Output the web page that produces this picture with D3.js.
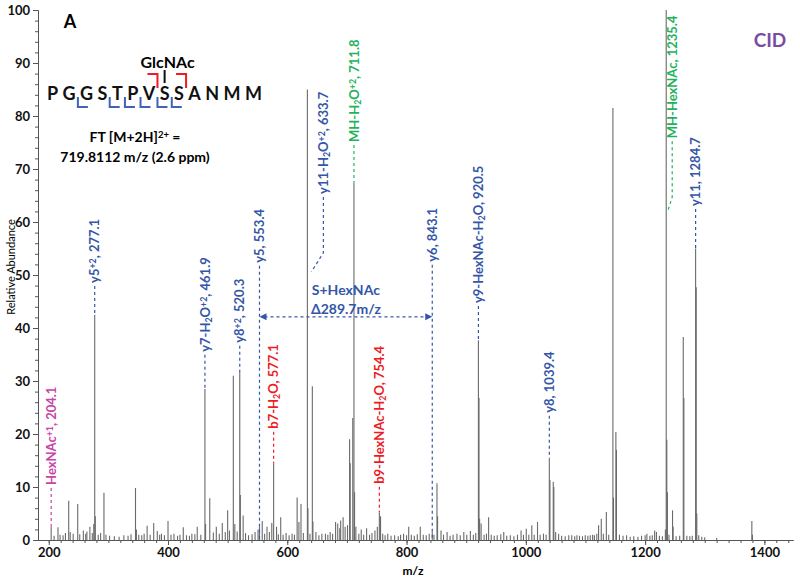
<!DOCTYPE html>
<html><head><meta charset="utf-8">
<script src="https://cdn.jsdelivr.net/npm/d3@7"></script>
<style>
body{margin:0;background:#fff}
svg{display:block}
text{font-family:Lato,"Open Sans",sans-serif}
</style>
</head><body>
<svg id="c" width="800" height="581"></svg>
<script>
// ---------- DATA ----------
const peaks = [
[204.1,2.6],[209,0.8],[215.5,2.4],[219,1.0],[224,0.9],[228,1.3],[233.5,7.4],[236,1.5],[241,1.2],
[248.6,6.8],[252,1.1],[258,1.8],[262,1.2],[264,1.6],[269,2.5],[273,1.3],[275.5,3.0],[277.1,42.5],
[278.1,4.5],[283,1.0],[287,1.3],[292.6,8.9],[296,1.0],[302,0.8],[310,0.7],[318,0.6],[326,0.9],
[333,0.8],[338,1.1],[345.5,9.8],[347,2.0],[351,1.0],[356,0.9],[360,1.2],[365,2.7],[370,1.0],
[376,3.2],[382,1.7],[386,1.0],[389,1.2],[394,0.9],[400,3.6],[405,1.0],[410,1.2],[416,0.8],
[420,1.0],[425.6,2.4],[431,0.9],[436,0.8],[440,1.2],[445,1.1],[449,2.5],[455,1.0],[461.9,28.5],
[463,3.0],[470,7.9],[476,1.4],[481,2.5],[486,1.2],[491,3.2],[496,1.5],[500,5.6],[503,1.8],
[509.5,31],[512,3.0],[516,1.6],[520.3,31.5],[521.3,8.5],[526,4.6],[530,1.3],[535,0.9],[541,1.1],
[546,1.5],[551,2.0],[553.4,2.5],[558,3.6],[562,1.2],[566,2.5],[570,1.5],[574,3.2],[577.1,14.5],
[582,2.5],[585,1.1],[589,4.3],[593,1.0],[598,1.3],[603,0.9],[608,1.2],[612,1.0],[616.5,8.0],
[619.5,3.4],[623,6.8],[627,1.3],[633.7,85],[634.7,6.0],[638,1.2],[642,29],[643,3.5],[648,1.5],
[653,0.9],[658,1.2],[664,1.2],[668,1.0],[672,1.5],[676,1.2],[681,3.4],[684.6,3.1],[688,2.2],
[689.5,3.7],[693.6,4.3],[697,2.5],[701,2.8],[704.5,19],[705.5,14.5],[709.8,23],[711.8,67.4],
[712.8,9.0],[715,2.5],[720,1.2],[724,2.0],[728,1.0],[733,2.2],[738,1.0],[742,1.3],[747,1.8],
[751,2.5],[754.4,5.2],[756.4,4.5],[760,1.2],[764,0.9],[768.5,1.2],[774,0.8],[780,0.9],[786,0.7],
[790,1.0],[795,1.2],[800,0.9],[803.6,2.5],[808,1.0],[813,0.8],[818,1.1],[823,2.5],[828,1.0],
[833,0.9],[838,1.2],[843.1,1.5],[846,1.0],[851,10.7],[852,4.5],[857.8,1.8],[862,1.0],[868,1.5],
[873,0.8],[878,1.0],[884.5,1.2],[890,0.9],[896,1.5],[901,1.0],[907,1.7],[912,1.0],[916,1.3],
[920.5,37.7],[921.5,26.8],[922.5,4.0],[925,3.1],[930,1.0],[934,1.2],[937.6,4.3],[942,1.0],
[947,0.8],[952,0.9],[958,1.1],[963,1.5],[968,0.8],[974,0.9],[980,0.7],[986,1.0],[992,1.8],
[996,1.0],[1000.7,2.1],[1005,1.0],[1010,2.8],[1014,1.0],[1019.6,3.4],[1024,1.0],[1029.6,1.2],
[1034,1.0],[1039.4,15.5],[1040.4,11.3],[1046,11],[1047,10],[1050,1.5],[1055,1.2],[1060,0.8],
[1066,0.7],[1072,0.9],[1077,0.9],[1082,0.7],[1085.7,0.9],[1090,0.8],[1095,0.7],[1099.6,0.9],
[1104,0.8],[1108,0.9],[1112,1.0],[1115,0.9],[1119,1.2],[1122,2.8],[1126.5,4.0],[1130,1.2],
[1135,5.3],[1139,1.0],[1146,81.5],[1147,8.0],[1151,20.4],[1152,17],[1157,1.0],[1163,0.8],
[1169,0.9],[1175,0.6],[1181,0.7],[1188,0.6],[1194,0.8],[1200,0.9],[1203,1.2],[1208,0.8],
[1212,0.9],[1216,1.8],[1219,1.5],[1224,0.8],[1229,0.7],[1234,2.0],[1235.4,100],[1236.4,18.9],
[1237.4,9.0],[1240,1.0],[1246,5.6],[1247,2.5],[1252,0.7],[1258,0.8],[1264,38.3],[1265,26.8],
[1270,0.8],[1275,0.7],[1279,0.8],[1284.7,55],[1285.7,47.7],[1286.7,5.0],[1290,0.9],[1295,0.6],
[1300,0.5],[1320,0.4],[1379,3.6],[1380,1.0]
];

const annText = [
"HexNAc^{+1}, 204.1","y5^{+2}, 277.1","y7-H_{2}O^{+2}, 461.9","y8^{+2}, 520.3","y5, 553.4",
"b7-H_{2}O, 577.1","y11-H_{2}O^{+2}, 633.7","MH-H_{2}O^{+2}, 711.8","b9-HexNAc-H_{2}O, 754.4",
"y6, 843.1","y9-HexNAc-H_{2}O, 920.5","y8, 1039.4","MH-HexNAc, 1235.4","y11, 1284.7"];
const annMz = [204.1,277.1,461.9,520.3,553.4,577.1,633.7,711.8,754.4,843.1,920.5,1039.4,1235.4,1284.7];
const annIon = ["oxonium","y","y","y","y","b","y","precursor","b","y","y","y","precursor","y"];
const annPeakTop = [2.6,42.5,28.5,31.5,0,14.5,50.6,67.4,5.2,0,37.7,15.5,62.3,55];

const yTickLabels = [0,10,20,30,40,50,60,70,80,90,100];
const xTickLabels = [200,400,600,800,1000,1200,1400];

const peptide = ["P","G","G","S","T","P","V","S","S","A","N","M","M"];
const yCleavages = [2,4,5,6,7,8];
const bCleavages = [7,9];
const glycoSite = 8;

const deltaStart = 553.4, deltaEnd = 843.1, deltaText = ["S+HexNAc","Δ289.7m/z"];

// ---------- LAYOUT (not data) ----------
const annTextStart = [10.4,48.5,35.5,37.2,52.3,21,65.3,75.1,10.6,52.5,44.7,24,75.8,63];
const annDx = [0,0,0,0,0,0,16,0,0,0,0,0,6,0];
const annKink = [null,null,null,null,null,null,54.2,null,null,null,null,null,64.7,null];
const annKinkEndDx = [0,0,0,0,0,0,4,0,0,0,0,0,2,0];
const deltaLevel = 42.1;

const colors = {y:"#3456a8", b:"#ec1c24", precursor:"#1fb25a", oxonium:"#c844a6"};

// ---------- CHART ----------
const svg = d3.select("#c");
const x = d3.scaleLinear().domain([182,1448]).range([38,793]);
const y = d3.scaleLinear().domain([0,100]).range([540,10]);

// peaks
svg.append("g").selectAll("line").data(peaks).join("line")
  .attr("x1",d=>x(d[0])).attr("x2",d=>x(d[0]))
  .attr("y1",y(0)).attr("y2",d=>y(d[1]))
  .attr("stroke","#6a6a6a").attr("stroke-width",1.1);

// axes
const axCol = "#555";
const gxMinor = svg.append("g").attr("transform",`translate(0,${y(0)})`)
  .call(d3.axisBottom(x).tickValues(d3.range(200,1441,20)).tickSize(3).tickFormat("").tickSizeOuter(0));
const gx = svg.append("g").attr("transform",`translate(0,${y(0)})`)
  .call(d3.axisBottom(x).tickValues(xTickLabels).tickFormat(d3.format("d")).tickSize(5).tickPadding(3).tickSizeOuter(0));
const gyMinor = svg.append("g").attr("transform",`translate(${x.range()[0]},0)`)
  .call(d3.axisLeft(y).tickValues(d3.range(0,101,2)).tickSize(3).tickFormat("").tickSizeOuter(0));
const gy = svg.append("g").attr("transform",`translate(${x.range()[0]},0)`)
  .call(d3.axisLeft(y).tickValues(yTickLabels).tickSize(5).tickPadding(3).tickSizeOuter(0));
[gxMinor,gx,gyMinor,gy].forEach(g=>{
  g.selectAll("path,line").attr("stroke",axCol);
  g.selectAll("text").attr("fill","#111").style("font-size","13px").style("font-weight","bold")
   .style("font-family","Lato, sans-serif");
});

svg.append("text").attr("x",413).attr("y",575).attr("text-anchor","middle")
  .style("font-size","12px").style("font-weight","bold").text("m/z");
svg.append("text").attr("transform","translate(15,267) rotate(-90)").attr("text-anchor","middle")
  .style("font-size","11px").text("Relative Abundance");

// rich text helper
function rich(sel, str){
  const parts = str.split(/(_\{[^}]*\}|\^\{[^}]*\})/).filter(s=>s.length);
  parts.forEach(p=>{
    if(p.startsWith("_{")) sel.append("tspan").attr("baseline-shift","-18%").style("font-size","0.68em").text(p.slice(2,-1));
    else if(p.startsWith("^{")) sel.append("tspan").attr("baseline-shift","38%").style("font-size","0.68em").text(p.slice(2,-1));
    else sel.append("tspan").text(p);
  });
}

// annotations
const ann = svg.append("g");
annText.forEach((t,i)=>{
  const col = colors[annIon[i]];
  const px = x(annMz[i]);
  const tx = px + annDx[i];
  const ty = y(annTextStart[i]);
  const txt = ann.append("text").attr("transform",`translate(${tx},${ty}) rotate(-90)`)
    .attr("dy","0.36em").attr("fill",col).style("font-size","13px").style("font-weight","bold");
  rich(txt, t);
  let pts;
  if(annKink[i]!==null){
    pts = [[tx,ty+3],[tx,y(annKink[i])],[px+annKinkEndDx[i],y(annPeakTop[i])]];
  } else {
    pts = [[px,ty+3],[px,y(annPeakTop[i])]];
  }
  ann.append("path").attr("d",d3.line()(pts)).attr("fill","none").attr("stroke",col)
    .attr("stroke-width",1.2).attr("stroke-dasharray","3,3");
});

// delta arrow
const ax1 = x(deltaStart), ax2 = x(deltaEnd), ay = y(deltaLevel);
svg.append("line").attr("x1",ax1+5).attr("x2",ax2-5).attr("y1",ay).attr("y2",ay)
  .attr("stroke",colors.y).attr("stroke-width",1.2).attr("stroke-dasharray","3,3");
svg.append("path").attr("d",`M${ax1},${ay} l7,-3.5 l0,7 Z`).attr("fill",colors.y);
svg.append("path").attr("d",`M${ax2},${ay} l-7,-3.5 l0,7 Z`).attr("fill",colors.y);
svg.append("text").attr("x",(ax1+ax2)/2).attr("y",ay-22).attr("text-anchor","middle")
  .attr("fill",colors.y).style("font-size","14px").style("font-weight","bold").text(deltaText[0]);
svg.append("text").attr("x",(ax1+ax2)/2).attr("y",ay-3).attr("text-anchor","middle")
  .attr("fill",colors.y).style("font-size","14px").style("font-weight","bold").text(deltaText[1]);

// panel letter & CID
svg.append("text").attr("x",70).attr("y",28).attr("text-anchor","middle")
  .style("font-size","18px").style("font-weight","bold").text("A");
svg.append("text").attr("x",770).attr("y",47).attr("text-anchor","middle").attr("fill","#7a4c9f")
  .style("font-size","19px").style("font-weight","bold").text("CID");

// peptide: letters laid out by their measured widths between x=47 and x=262
const pepLeft = 47, pepRight = 262;
const pepG = svg.append("g");
const letters = pepG.selectAll("text").data(peptide).join("text")
  .attr("y",100).style("font-size","18px").style("font-weight","bold").attr("fill","#111").text(d=>d);
const widths = letters.nodes().map(n=>n.getComputedTextLength());
const spacing = (pepRight - pepLeft - d3.sum(widths)) / (peptide.length - 1);
const lefts = []; let cur = pepLeft;
widths.forEach(w=>{ lefts.push(cur); cur += w + spacing; });
letters.attr("x",(d,i)=>lefts[i]);
const center = i => lefts[i] + widths[i]/2;
const gap = k => (lefts[k-1] + widths[k-1] + lefts[k]) / 2;
yCleavages.forEach(k=>{
  const g = gap(k);
  svg.append("path").attr("d",`M${g},97 V107 H${g+10}`).attr("fill","none")
    .attr("stroke","#4063b8").attr("stroke-width",2);
});
bCleavages.forEach(k=>{
  const g = gap(k);
  svg.append("path").attr("d",`M${g-10},74 H${g} V88`).attr("fill","none")
    .attr("stroke","#ec1c24").attr("stroke-width",2);
});
const gc = center(glycoSite-1);
svg.append("line").attr("x1",gc).attr("x2",gc).attr("y1",70).attr("y2",83)
  .attr("stroke","#111").attr("stroke-width",2);
svg.append("text").attr("x",gc+3).attr("y",68).attr("text-anchor","middle")
  .style("font-size","16px").style("font-weight","bold").text("GlcNAc");

const ft = svg.append("text").attr("x",135).attr("y",142).attr("text-anchor","middle")
  .style("font-size","14px").style("font-weight","bold");
rich(ft,"FT [M+2H]^{2+} =");
svg.append("text").attr("x",135).attr("y",162).attr("text-anchor","middle")
  .style("font-size","14px").style("font-weight","bold").text("719.8112 m/z (2.6 ppm)");
</script>
</body></html>
